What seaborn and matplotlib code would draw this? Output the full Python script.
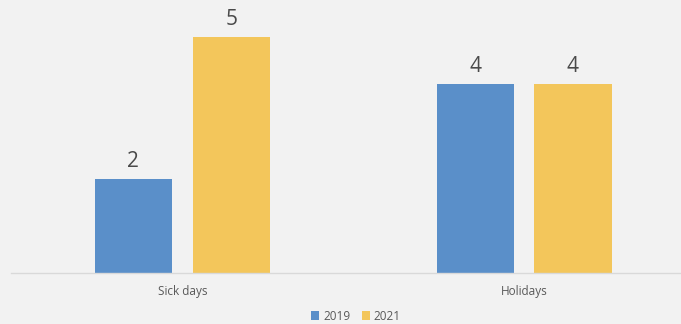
import matplotlib
matplotlib.use("Agg")
import matplotlib.pyplot as plt
import seaborn as sns
import pandas as pd
from matplotlib.patches import Patch

categories = ["Sick days", "Holidays"]
years = ["2019", "2021"]
values_2019 = [2, 4]
values_2021 = [5, 4]

df = pd.DataFrame({
    "category": categories * 2,
    "year": [years[0]] * len(categories) + [years[1]] * len(categories),
    "value": values_2019 + values_2021,
})

BG = "#F2F2F2"
palette = {"2019": "#5A8FC9", "2021": "#F3C65B"}

sns.set_theme(style="white")
plt.rcParams["font.family"] = ["Open Sans", "DejaVu Sans"]

W, H = 681, 324
fig = plt.figure(figsize=(W / 100, H / 100), dpi=100, facecolor=BG)
ax = fig.add_axes([11 / W, (H - 273) / H, (W - 11) / W, (273 - 8) / H])
ax.set_facecolor(BG)

sns.barplot(data=df, x="category", y="value", hue="year", order=categories,
            hue_order=years, palette=palette, width=0.572, gap=0.21,
            saturation=1, linewidth=0, edgecolor="none", ax=ax, legend=False)

for container in ax.containers:
    ax.bar_label(container, fmt="%g", padding=5, fontsize=15, color="#4A4A4A")

ax.set_xlim(-0.501, 1.459)
ax.set_ylim(0, 5 * 265 / 236)
ax.set_xlabel("")
ax.set_ylabel("")
ax.set_yticks([])
ax.tick_params(axis="x", length=0, pad=9, labelsize=8.5, labelcolor="#595959")
for side in ["top", "right", "left"]:
    ax.spines[side].set_visible(False)
ax.spines["bottom"].set_color("#D9D9D9")
ax.spines["bottom"].set_linewidth(1)

handles = [Patch(facecolor=palette[y], edgecolor="none", label=y) for y in years]
fig.legend(handles=handles, loc="center", bbox_to_anchor=(356 / W, 1 - 316 / H),
           ncol=2, frameon=False, fontsize=8.5, labelcolor="#595959",
           handlelength=0.7, handleheight=0.7, handletextpad=0.3,
           columnspacing=1.0)

fig.savefig("out.png", dpi=100, facecolor=BG)
